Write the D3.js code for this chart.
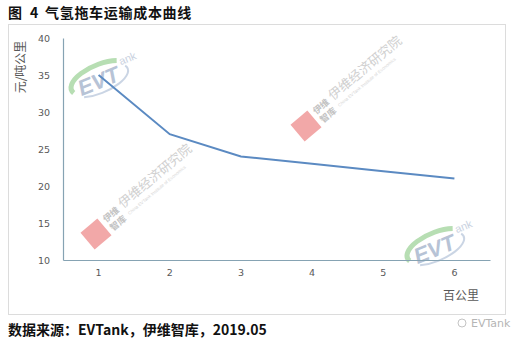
<!DOCTYPE html>
<html>
<head>
<meta charset="utf-8">
<script src="https://cdn.jsdelivr.net/npm/d3@7"></script>
<style>
  body { margin: 0; background: #fff; }
  svg { display: block; }
</style>
</head>
<body>
<svg id="chart" width="525" height="342"></svg>
<script>
// data
const categories = ['1', '2', '3', '4', '5', '6'];
const costValues = [35, 27, 24, 23, 22, 21];
const yTicks = [10, 15, 20, 25, 30, 35, 40];

const titleParts = ['图', '4', '气氢拖车运输成本曲线'];
const yTitle = '元/吨公里';
const xTitle = '百公里';
const source = '数据来源：EVTank，伊维智库，2019.05';

const svg = d3.select('#chart');
const cjk = '"Noto Sans CJK SC", "Noto Sans", sans-serif';
const margin = {left: 63, right: 35, top: 38, bottom: 82};
const width = 525, height = 342;

// title + frame
const titleText = svg.append('text')
    .attr('y', 18)
    .style('font-family', cjk).style('font-size', '14px').style('font-weight', 'bold')
    .attr('fill', '#111');
titleText.append('tspan').attr('x', 8).text(titleParts[0]);
titleText.append('tspan').attr('x', 30).text(titleParts[1]);
titleText.append('tspan').attr('x', 45).style('letter-spacing', '0.7px').text(titleParts[2]);

svg.append('rect')
    .attr('x', 8.5).attr('y', 24.5)
    .attr('width', 497).attr('height', 290)
    .attr('fill', 'none').attr('stroke', '#dcdcdc');

const x = d3.scaleBand()
    .domain(categories)
    .range([margin.left, width - margin.right]);

const y = d3.scaleLinear()
    .domain([10, 40])
    .range([height - margin.bottom, margin.top]);

// watermarks (behind the line)
function evtLogo(g, cx, cy) {
  const w = g.append('g').attr('transform', `translate(${cx},${cy}) rotate(-22)`).attr('opacity', 0.75);
  w.append('path')
      .attr('d', 'M-30,4 A32,14 0 0 1 22,-10')
      .attr('fill', 'none').attr('stroke', '#9fd39a').attr('stroke-width', 5);
  w.append('path')
      .attr('d', 'M-22,12 A32,13 0 0 0 28,-2')
      .attr('fill', 'none').attr('stroke', '#b9c7dc').attr('stroke-width', 2);
  w.append('text').attr('x', -24).attr('y', 10)
      .style('font-family', 'Arial, "Liberation Sans", sans-serif')
      .style('font-size', '22px').style('font-weight', 'bold').style('font-style', 'italic')
      .attr('fill', '#9fb0c9').text('EVT');
  w.append('text').attr('x', 24).attr('y', -4)
      .style('font-family', 'Arial, "Liberation Sans", sans-serif')
      .style('font-size', '11px').attr('fill', '#b8c4d6').text('ank');
}

function stamp(g, cx, cy) {
  const w = g.append('g').attr('transform', `translate(${cx},${cy})`);
  w.append('rect').attr('x', -11).attr('y', -11).attr('width', 22).attr('height', 22)
      .attr('transform', 'rotate(-40)')
      .attr('fill', '#f2a8a8');
  const t = w.append('g').attr('transform', 'rotate(-40)');
  t.append('text').attr('x', 15).attr('y', -2)
      .style('font-family', cjk).style('font-size', '9px').style('font-weight', 'bold')
      .attr('fill', '#c2c2c2').text('伊维');
  t.append('text').attr('x', 15).attr('y', 9)
      .style('font-family', cjk).style('font-size', '9px').style('font-weight', 'bold')
      .attr('fill', '#c2c2c2').text('智库');
  t.append('text').attr('x', 37).attr('y', -2)
      .style('font-family', cjk).style('font-size', '13px')
      .attr('fill', '#d0d0d0').text('伊维经济研究院');
  t.append('text').attr('x', 38).attr('y', 7)
      .style('font-family', 'Arial, sans-serif').style('font-size', '4.5px')
      .attr('fill', '#d6d6d6').text('China EVTank Institute of Economics');
}

const marks = svg.append('g');
evtLogo(marks, 100, 78);
evtLogo(marks, 436, 246);
stamp(marks, 306, 126);
stamp(marks, 96, 234);

// axes
const axisColor = '#86a3b3';
const yAxis = svg.append('g')
    .attr('transform', `translate(${margin.left},0)`)
    .call(d3.axisLeft(y).tickValues(yTicks).tickSize(0).tickPadding(13));
yAxis.select('.domain').attr('stroke', axisColor).attr('stroke-width', 1.2);

const xAxis = svg.append('g')
    .attr('transform', `translate(0,${height - margin.bottom})`)
    .call(d3.axisBottom(x).tickSize(0).tickPadding(9));
xAxis.select('.domain').attr('stroke', axisColor).attr('stroke-width', 1.2);

svg.selectAll('.tick text')
    .style('font-family', '"DejaVu Sans", sans-serif')
    .style('font-size', '9.5px')
    .attr('fill', '#595959');

// axis titles
svg.append('text')
    .attr('transform', 'translate(25,67) rotate(-90)')
    .attr('text-anchor', 'middle')
    .style('font-family', cjk).style('font-size', '12px')
    .attr('fill', '#595959')
    .text(yTitle);

svg.append('text')
    .attr('x', 461).attr('y', 300)
    .attr('text-anchor', 'middle')
    .style('font-family', cjk).style('font-size', '12px')
    .attr('fill', '#595959')
    .text(xTitle);

// cost line
const line = d3.line()
    .x((d, i) => x(categories[i]) + x.bandwidth() / 2)
    .y(d => y(d));

svg.append('path')
    .datum(costValues)
    .attr('d', line)
    .attr('fill', 'none')
    .attr('stroke', '#5b8ac2')
    .attr('stroke-width', 2);

// source line
svg.append('text')
    .attr('x', 8).attr('y', 335)
    .style('font-family', cjk).style('font-size', '14px').style('font-weight', 'bold')
    .attr('fill', '#111')
    .text(source);

const wx = svg.append('g').attr('transform', 'translate(462,323)');
wx.append('circle').attr('cx', 0).attr('cy', 0).attr('r', 4)
    .attr('fill', 'none').attr('stroke', '#c4c4c4').attr('stroke-width', 1);
wx.append('text').attr('x', 9).attr('y', 4)
    .style('font-family', '"DejaVu Sans", sans-serif').style('font-size', '11px')
    .attr('fill', '#b5b5b5')
    .text('EVTank');
</script>
</body>
</html>
